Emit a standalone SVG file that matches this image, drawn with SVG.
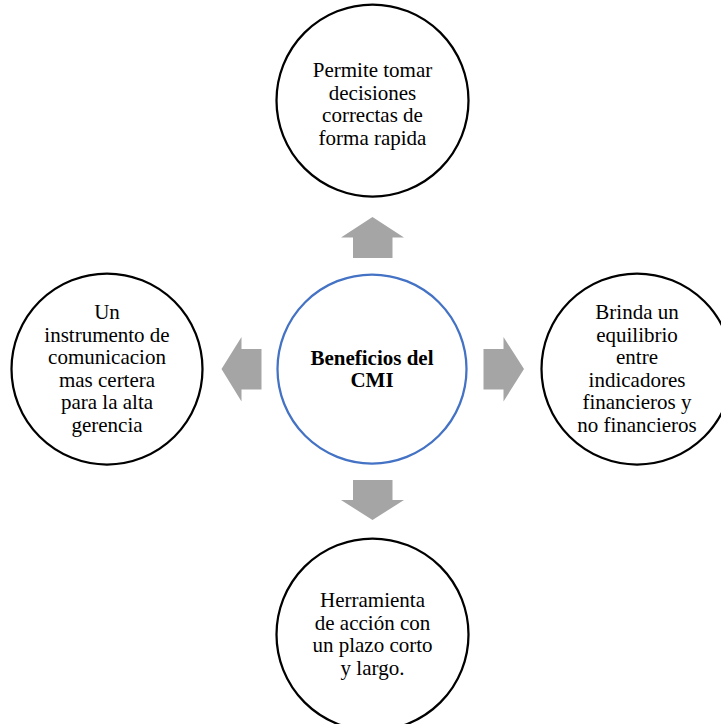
<svg xmlns="http://www.w3.org/2000/svg" width="721" height="724" viewBox="0 0 721 724">
  <style>
    .bg { fill: #ffffff; }
    .outer { fill: #ffffff; stroke: #000000; stroke-width: 2.25; }
    .hub { fill: #ffffff; stroke: #4472C4; stroke-width: 2.25; }
    .label { font-family: "Liberation Serif", "Times New Roman", serif; font-size: 21px; fill: #000000; text-anchor: middle; }
    .hub-label { font-weight: bold; }
    .arrow { fill: #A5A5A5; stroke: none; }
  </style>
  <rect class="bg" x="0" y="0" width="721" height="724"/>

  <!-- block arrows pointing from the hub to each benefit -->
  <g id="connectors">
    <polygon class="arrow" points="372.5,217 404,237.5 392.5,237.5 392.5,258 353,258 353,237.5 341,237.5"/>
    <polygon class="arrow" points="372.5,520 404,500 392.5,500 392.5,480 353,480 353,500 341,500"/>
    <polygon class="arrow" points="524,369 503.5,337 503.5,349 483.5,349 483.5,389.5 503.5,389.5 503.5,401.5"/>
    <polygon class="arrow" points="221.5,369 241.5,337 241.5,349 261.5,349 261.5,389.5 241.5,389.5 241.5,401.5"/>
  </g>

  <g id="hub">
    <circle class="hub" cx="372" cy="369" r="94.5"/>
    <text class="label hub-label" x="372" y="365">Beneficios del</text>
    <text class="label hub-label" x="372" y="387">CMI</text>
  </g>

  <g id="node-top">
    <circle class="outer" cx="372.5" cy="100.5" r="96"/>
    <text class="label" x="372.5" y="77">Permite tomar</text>
    <text class="label" x="372.5" y="99.5">decisiones</text>
    <text class="label" x="372.5" y="122">correctas de</text>
    <text class="label" x="372.5" y="144.5">forma rapida</text>
  </g>

  <g id="node-left">
    <circle class="outer" cx="107" cy="369" r="95.5"/>
    <text class="label" x="107" y="319">Un</text>
    <text class="label" x="107" y="341.5">instrumento de</text>
    <text class="label" x="107" y="364">comunicacion</text>
    <text class="label" x="107" y="386.5">mas certera</text>
    <text class="label" x="107" y="409">para la alta</text>
    <text class="label" x="107" y="431.5">gerencia</text>
  </g>

  <g id="node-right">
    <circle class="outer" cx="637" cy="369" r="95.5"/>
    <text class="label" x="637" y="319">Brinda un</text>
    <text class="label" x="637" y="341.5">equilibrio</text>
    <text class="label" x="637" y="364">entre</text>
    <text class="label" x="637" y="386.5">indicadores</text>
    <text class="label" x="637" y="409">financieros y</text>
    <text class="label" x="637" y="431.5">no financieros</text>
  </g>

  <g id="node-bottom">
    <circle class="outer" cx="372.5" cy="634.5" r="96"/>
    <text class="label" x="372.5" y="607">Herramienta</text>
    <text class="label" x="372.5" y="629.5">de acción con</text>
    <text class="label" x="372.5" y="652">un plazo corto</text>
    <text class="label" x="372.5" y="674.5">y largo.</text>
  </g>
</svg>
